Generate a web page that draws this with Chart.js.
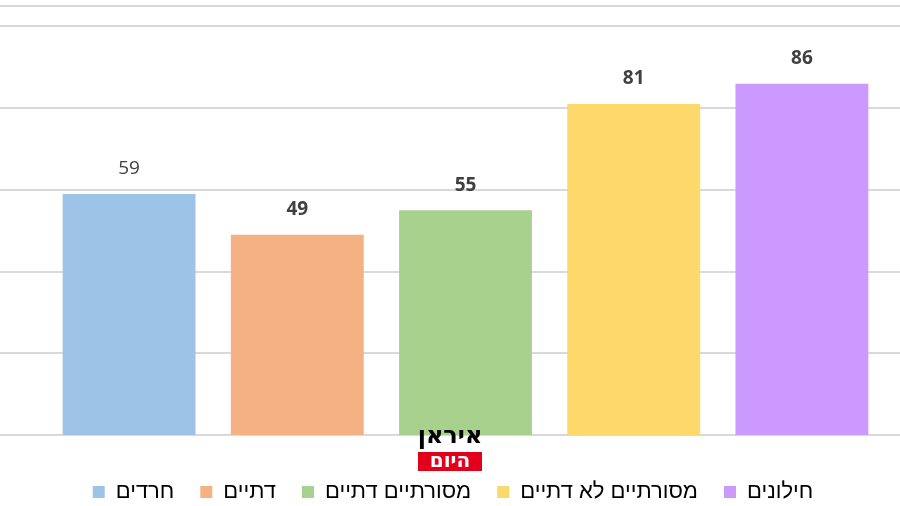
<!DOCTYPE html>
<html>
<head>
<meta charset="utf-8">
<script src="https://cdn.jsdelivr.net/npm/chart.js@4"></script>
<style>
  html, body { margin: 0; padding: 0; background: #fff; }
  #wrap { width: 900px; height: 506px; }
</style>
</head>
<body>
<div id="wrap"><canvas id="chart" width="900" height="506"></canvas></div>
<script>
const categories = ["חרדים", "דתיים", "מסורתיים דתיים", "מסורתיים לא דתיים", "חילונים"];
const values = [59, 49, 55, 81, 86];
const barColors = ["#9dc3e6", "#f4b183", "#a9d18e", "#fdd86a", "#cc99ff"];
const yTicks = [0, 20, 40, 60, 80, 100, 105];

const fontFamily = "'Open Sans', 'Noto Sans', sans-serif";
const legendFont = "'Liberation Sans', Arial, sans-serif";

// Horizontal grid lines across the whole canvas width
const fullGrid = {
    id: "fullGrid",
    beforeDatasetsDraw(chart) {
        const ctx = chart.ctx;
        const y = chart.scales.y;
        ctx.save();
        ctx.strokeStyle = "#d9d9d9";
        ctx.lineWidth = 2;
        yTicks.forEach(t => {
            const py = Math.round(y.getPixelForValue(t));
            ctx.beginPath();
            ctx.moveTo(0, py);
            ctx.lineTo(chart.width, py);
            ctx.stroke();
        });
        ctx.restore();
    }
};

// Value labels above bars
const valueLabels = {
    id: "valueLabels",
    afterDatasetsDraw(chart) {
        const ctx = chart.ctx;
        const meta = chart.getDatasetMeta(0);
        ctx.save();
        ctx.fillStyle = "#404040";
        ctx.textAlign = "center";
        ctx.textBaseline = "middle";
        meta.data.forEach((bar, i) => {
            ctx.font = (i === 0 ? "400" : "700") + " 19px " + fontFamily;
            ctx.fillText(String(values[i]), bar.x, bar.y - 25);
        });
        ctx.restore();
    }
};

// Site logo in the middle bottom
const logo = {
    id: "logo",
    afterDraw(chart) {
        const ctx = chart.ctx;
        ctx.save();
        ctx.textAlign = "center";
        ctx.textBaseline = "middle";
        ctx.fillStyle = "#000";
        ctx.font = "900 24px 'DejaVu Sans', sans-serif";
        ctx.fillText("איראן", 450, 437);
        ctx.fillStyle = "#e2001a";
        ctx.fillRect(418, 452, 64, 19);
        ctx.fillStyle = "#fff";
        ctx.font = "900 20px 'DejaVu Sans', sans-serif";
        ctx.fillText("היום", 450, 462);
        ctx.restore();
    }
};

// Invisible axis that only reserves room
const spacer = (pos, w) => ({
    position: pos,
    display: true,
    grid: { display: false },
    border: { display: false },
    ticks: { display: false },
    afterFit: scale => { scale.width = w; }
});

new Chart(document.getElementById("chart"), {
    type: "bar",
    data: {
        labels: categories,
        datasets: [{
            data: values,
            backgroundColor: barColors,
            borderWidth: 0,
            categoryPercentage: 1,
            barPercentage: 0.79
        }]
    },
    options: {
        responsive: false,
        animation: false,
        layout: { padding: { left: 6, right: 0, top: 6, bottom: -7 } },
        scales: {
            x: {
                display: true,
                grid: { display: false },
                border: { display: false },
                ticks: { display: false },
                afterFit: scale => { scale.height = 20; }
            },
            y: Object.assign(spacer("left", 39), { min: 0, max: 105 }),
            yRight: Object.assign(spacer("right", 14), { min: 0, max: 105 })
        },
        plugins: {
            tooltip: { enabled: false },
            legend: {
                position: "bottom",
                labels: {
                    boxWidth: 12,
                    boxHeight: 12,
                    padding: 26,
                    color: "#595959",
                    font: { family: legendFont, size: 22 },
                    generateLabels: chart => chart.data.labels.map((l, i) => ({
                        text: l,
                        fillStyle: barColors[i],
                        strokeStyle: barColors[i],
                        lineWidth: 0,
                        hidden: false,
                        index: i
                    }))
                }
            }
        }
    },
    plugins: [fullGrid, valueLabels, logo]
});
</script>
</body>
</html>
